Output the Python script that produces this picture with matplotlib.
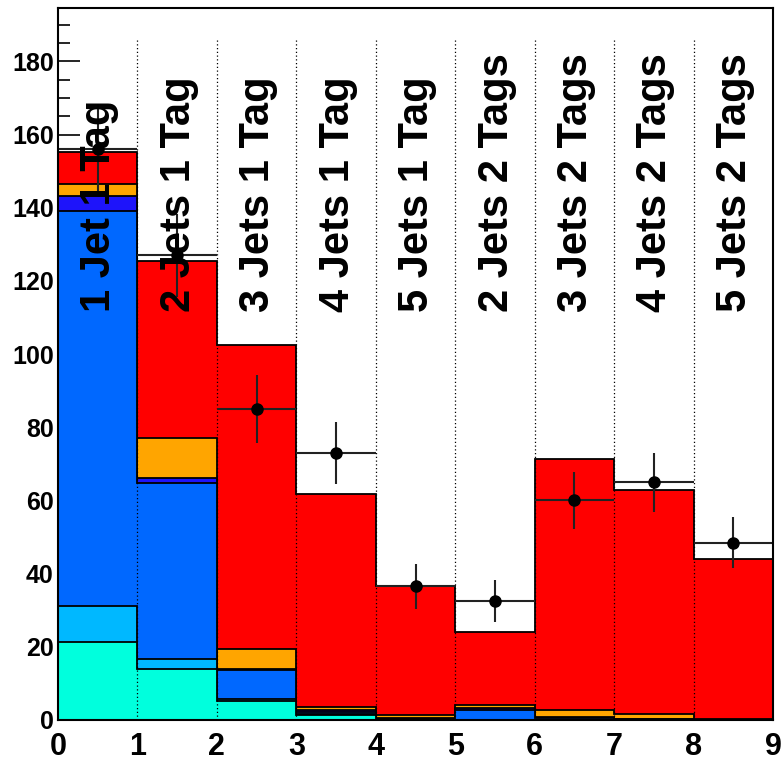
import numpy as np
import matplotlib
matplotlib.use('Agg')
import matplotlib.pyplot as plt
from matplotlib.ticker import MultipleLocator

plt.rcParams['font.family'] = ['Liberation Sans', 'DejaVu Sans']

# bin edges and the jet/tag category of each bin
edges = np.arange(0, 10)
categories = ['1 Jet 1 Tag', '2 Jets 1 Tag', '3 Jets 1 Tag', '4 Jets 1 Tag', '5 Jets 1 Tag',
              '2 Jets 2 Tags', '3 Jets 2 Tags', '4 Jets 2 Tags', '5 Jets 2 Tags']

# stacked background components, bottom to top
cyan_comp = [21.2, 13.8, 5.3, 1.4, 0.0, 0.0, 0.0, 0.0, 0.0]
lightblue_comp = [10.0, 2.9, 0.3, 0.3, 0.0, 0.0, 0.0, 0.0, 0.0]
blue_comp = [107.9, 48.2, 8.0, 0.6, 0.3, 2.7, 0.5, 0.3, 0.0]
darkblue_comp = [4.1, 1.2, 0.4, 0.3, 0.2, 0.7, 0.2, 0.1, 0.0]
orange_comp = [3.3, 11.0, 5.3, 1.0, 0.8, 0.6, 2.0, 1.1, 0.3]
red_comp = [8.7, 48.5, 83.1, 58.3, 35.3, 20.1, 68.7, 61.5, 43.6]

# observed counts
data_counts = [156, 127, 85, 73, 36.5, 32.5, 60, 65, 48.5]

layers = [cyan_comp, lightblue_comp, blue_comp, darkblue_comp, orange_comp, red_comp]
colors = ['#00FFDD', '#00B8FF', '#0068FF', '#1E14FA', '#FFA500', '#FF0000']

fig = plt.figure(figsize=(7.82, 7.61), dpi=100)
ax = fig.add_axes([0.0742, 0.0539, 0.9143, 0.935])

# cumulative stack, drawn from the top down so lower components sit over it
cumul = np.cumsum(np.array(layers), axis=0)
for level, col in reversed(list(zip(cumul, colors))):
    ax.stairs(level, edges, baseline=0, fill=True, facecolor=col,
              edgecolor='black', linewidth=1.3, zorder=2)

# dotted bin separators
for xb in edges[1:-1]:
    ax.plot([xb, xb], [0, 186], color='black', linestyle=(0, (1, 2)),
            linewidth=0.9, zorder=3)

# data points with sqrt(N) errors and full-bin x errors
centers = edges[:-1] + 0.5
ax.errorbar(centers, data_counts, xerr=0.5, yerr=np.sqrt(data_counts),
            fmt='o', color='black', ecolor='#222222', markersize=8,
            elinewidth=1.5, capsize=0, zorder=4)

# category labels
for xc, name in zip(centers, categories):
    ax.text(xc + 0.02, 111.5, name, rotation=90, ha='center', va='bottom',
            fontsize=30, fontweight='bold', color='black', zorder=5)

ax.set_xlim(0, 9)
ax.set_ylim(0, 194.5)
ax.xaxis.set_major_locator(MultipleLocator(1))
ax.xaxis.set_minor_locator(MultipleLocator(0.2))
ax.yaxis.set_major_locator(MultipleLocator(20))
ax.yaxis.set_minor_locator(MultipleLocator(5))
ax.tick_params(which='both', direction='in', top=False, right=False, width=1.2)
ax.tick_params(axis='y', which='major', length=16, pad=3, labelsize=18)
ax.tick_params(axis='y', which='minor', length=8.5)
ax.tick_params(axis='x', which='major', length=15, pad=9, labelsize=22)
ax.tick_params(axis='x', which='minor', length=9)
for lab in ax.get_xticklabels() + ax.get_yticklabels():
    lab.set_fontweight('bold')
for sp in ax.spines.values():
    sp.set_linewidth(1.5)
    sp.set_zorder(6)

fig.savefig('out.png', dpi=100, facecolor='white')
